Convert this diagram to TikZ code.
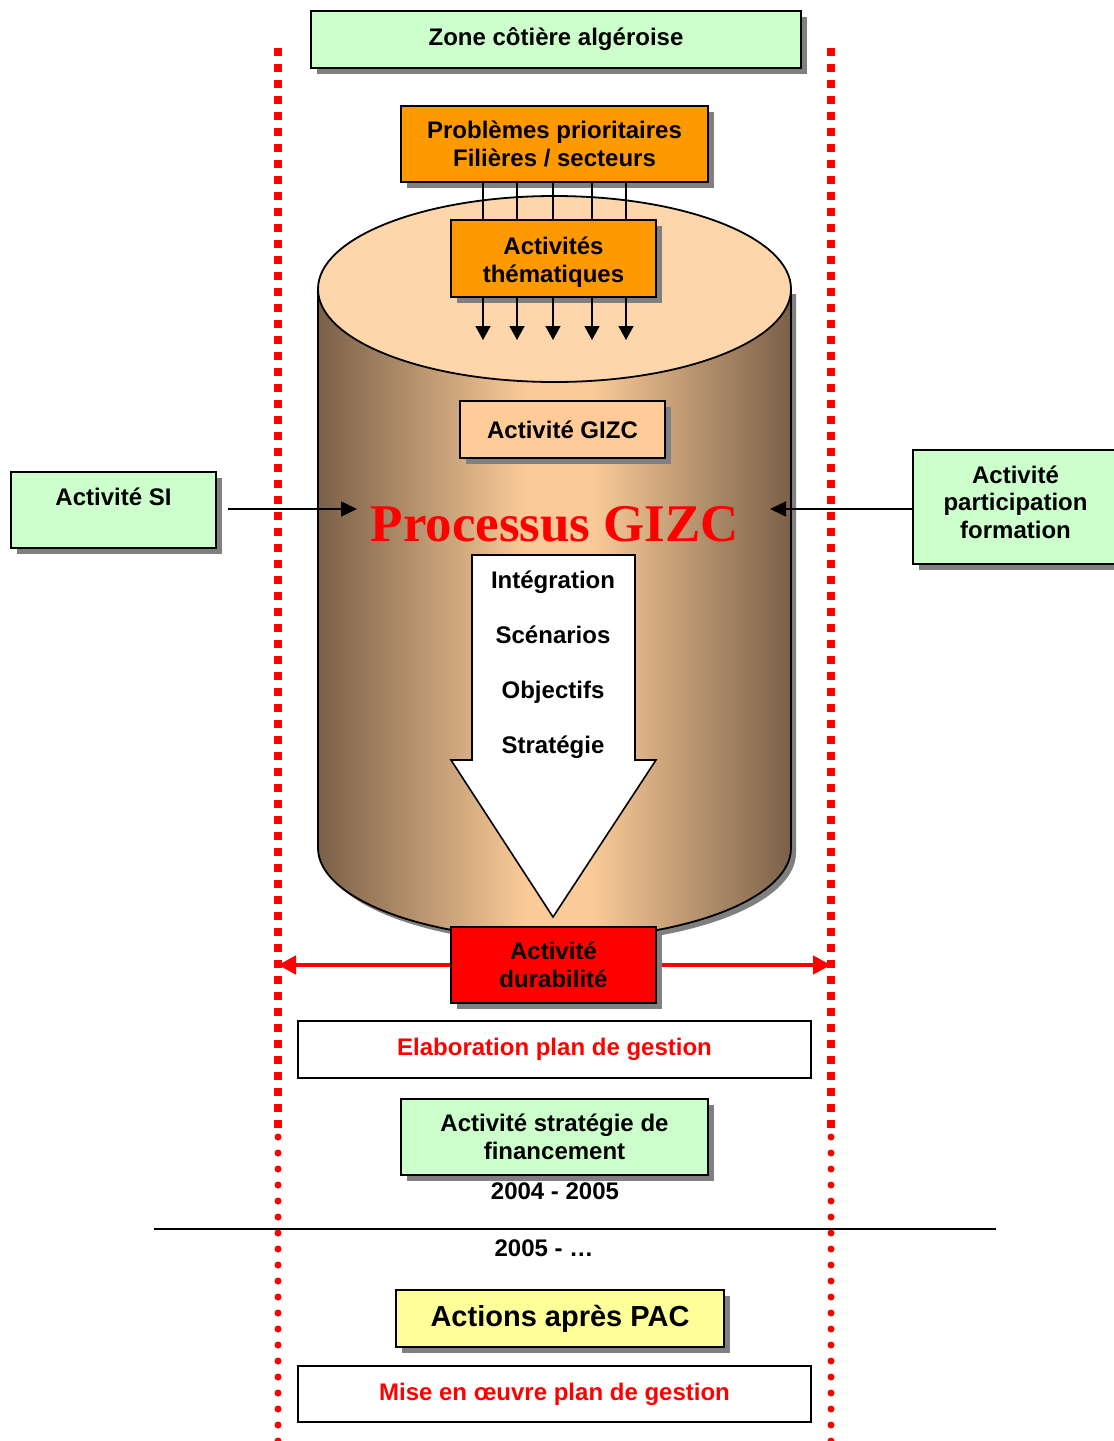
\documentclass[tikz,border=0pt]{standalone}
\usepackage{fontspec}
\setmainfont{Liberation Sans}
\newfontfamily\titleserif{Liberation Serif}
\usetikzlibrary{arrows.meta,shadows}
\definecolor{boxgreen}{HTML}{CCFFCC}
\definecolor{boxorange}{HTML}{FF9900}
\definecolor{boxred}{HTML}{FF0000}
\definecolor{boxyellow}{HTML}{FFFF99}
\definecolor{boxpeach}{HTML}{FFCC99}
\definecolor{toppeach}{HTML}{FDD6AC}
\definecolor{cyldark}{HTML}{7A6048}
\definecolor{cyllight}{HTML}{FACB98}
\definecolor{shadowgray}{HTML}{808080}
% metallic look of the cylinder body: dark rims, light middle
% (TikZ maps the path onto the 25bp--75bp part of the shading)
\pgfdeclarehorizontalshading{cylbody}{100bp}{%
  color(0bp)=(cyldark); color(25bp)=(cyldark);
  color(47bp)=(cyllight); color(54bp)=(cyllight);
  color(75bp)=(cyldark); color(100bp)=(cyldark)}
\begin{document}
\begin{tikzpicture}[x=0.5pt,y=-0.5pt,
  lbl/.style={font=\fontsize{12}{13.8}\selectfont\bfseries, align=center, inner sep=0pt},
  box/.style={lbl, draw=black, line width=0.9pt, rectangle,
    general shadow={fill=shadowgray, shadow xshift=2.75pt, shadow yshift=-2.75pt}},
  planbox/.style={lbl, draw=black, line width=0.9pt, rectangle, fill=white, text=boxred},
  thin/.style={line width=0.7pt, draw=black},
  smalltip/.style={-{Triangle[width=7.5pt,length=7pt]}},
  sidetip/.style={-{Triangle[width=7.5pt,length=8pt]}},
  squaredots/.style={draw=boxred, line width=4pt, dash pattern=on 4pt off 4pt},
  rounddots/.style={draw=boxred, line width=3.5pt, line cap=round, dash pattern=on 0pt off 8pt},
]
\clip (0,0) rectangle (1114,1441);

% period separator
\coordinate (sepL) at (154,1229);
\coordinate (sepR) at (996,1229);
\draw[line width=0.8pt] (sepL) -- (sepR);

% dotted boundaries of the coastal zone
\coordinate (lTop) at (278,48);   \coordinate (lMid) at (278,1130);
\coordinate (lDot) at (278,1137); \coordinate (lBot) at (278,1445);
\coordinate (rTop) at (831,48);   \coordinate (rMid) at (831,1130);
\coordinate (rDot) at (831,1137); \coordinate (rBot) at (831,1445);
\draw[squaredots] (lTop) -- (lMid);
\draw[squaredots] (rTop) -- (rMid);
\draw[rounddots] (lDot) -- (lBot);
\draw[rounddots] (rDot) -- (rBot);

% cylinder: shadow, shaded body, top face
\begin{scope}[shift={(5,5)}]
  \fill[shadowgray] (318,289) -- (318,848)
    arc[start angle=180, end angle=0, x radius=236.5, y radius=91] -- (791,289) -- cycle;
\end{scope}
\shade[shading=cylbody]
  (318,289) -- (318,848)
  arc[start angle=180, end angle=0, x radius=236.5, y radius=91] -- (791,289) -- cycle;
\draw[line width=0.9pt] (318,289) -- (318,848)
  arc[start angle=180, end angle=0, x radius=236.5, y radius=91] -- (791,289);
\filldraw[fill=toppeach, line width=0.9pt] (554.5,289) ellipse [x radius=236.5, y radius=93];

% boxes
\node[box, fill=boxgreen, minimum width=245pt, minimum height=28.5pt] (zone) at (556,39.5) {Zone côtière algéroise};
\node[box, fill=boxorange, minimum width=153.5pt, minimum height=38pt] (prob) at (554.5,144) {Problèmes prioritaires\\Filières / secteurs};
\node[box, fill=boxorange, minimum width=102.5pt, minimum height=38.5pt] (them) at (553.5,258.5) {\rule{0pt}{12.5pt}Activités\\thématiques};
\node[box, fill=boxpeach, minimum width=102.5pt, minimum height=28.5pt] (gizc) at (562.5,429.5) {Activité GIZC};
\node[box, fill=boxgreen, minimum width=102.5pt, minimum height=38pt] (si) at (113.5,510) {Activité SI\\\mbox{}};
\node[box, fill=boxgreen, minimum width=102.5pt, minimum height=57pt] (part) at (1015.5,507) {Activité\\participation\\formation\rule[-5pt]{0pt}{5pt}};

% thematic flows
\foreach \i/\xx in {1/483, 2/517, 3/553, 4/592, 5/626} {
  \coordinate (t\i) at (\xx,340);
  \draw[thin] (prob.south -| t\i) -- (them.north -| t\i);
  \draw[thin, smalltip] (them.south -| t\i) -- (t\i);
}

% inputs into the process
\coordinate (siTip) at (357,509);
\coordinate (partTip) at (770,509);
\draw[thin, sidetip] ([xshift=5.5pt]si.east |- siTip) -- (siTip);
\draw[thin, sidetip] (part.west |- partTip) -- (partTip);

% process title
\node[font=\titleserif\bfseries\fontsize{26.5}{30}\selectfont, text=boxred, anchor=base, inner sep=0pt] (proc) at (555,541) {Processus GIZC};

% downward process arrow
\filldraw[fill=white, line width=0.8pt]
  (472,555) -- (635,555) -- (635,760) -- (656,760) -- (553,917)
  -- (451,760) -- (472,760) -- cycle;
\node[lbl, anchor=base] (integ) at (553,588) {Intégration};
\node[lbl, anchor=base] (scen) at (553,643) {Scénarios};
\node[lbl, anchor=base] (obj) at (553,698) {Objectifs};
\node[lbl, anchor=base] (strat) at (553,753) {Stratégie};

% sustainability across the zone
\coordinate (durL) at (278,965);
\coordinate (durR) at (831,965);
\draw[draw=boxred, fill=boxred, line width=2.2pt, {Triangle[width=9pt,length=9pt]}-{Triangle[width=9pt,length=9pt]}] (durL) -- (durR);
\node[box, fill=boxred, minimum width=102.5pt, minimum height=38pt] (dur) at (553.5,965) {Activité\\durabilité};

% plans and financing
\node[planbox, minimum width=256.5pt, minimum height=28.5pt] (elab) at (554.5,1049.5) {Elaboration plan de gestion};
\node[box, fill=boxgreen, minimum width=153.5pt, minimum height=38pt] (fin) at (554.5,1137) {Activité stratégie de\\financement};
\node[lbl] (p1) at (555,1191) {2004 - 2005};
\node[lbl] (p2) at (544,1248) {2005 - …};
\node[box, fill=boxyellow, minimum width=164pt, minimum height=28.5pt, font=\fontsize{14.5}{16}\selectfont\bfseries] (pac) at (560,1318.5) {Actions après PAC};
\node[planbox, minimum width=256.5pt, minimum height=28pt] (mise) at (554.5,1394) {Mise en œuvre plan de gestion};
\end{tikzpicture}
\end{document}
